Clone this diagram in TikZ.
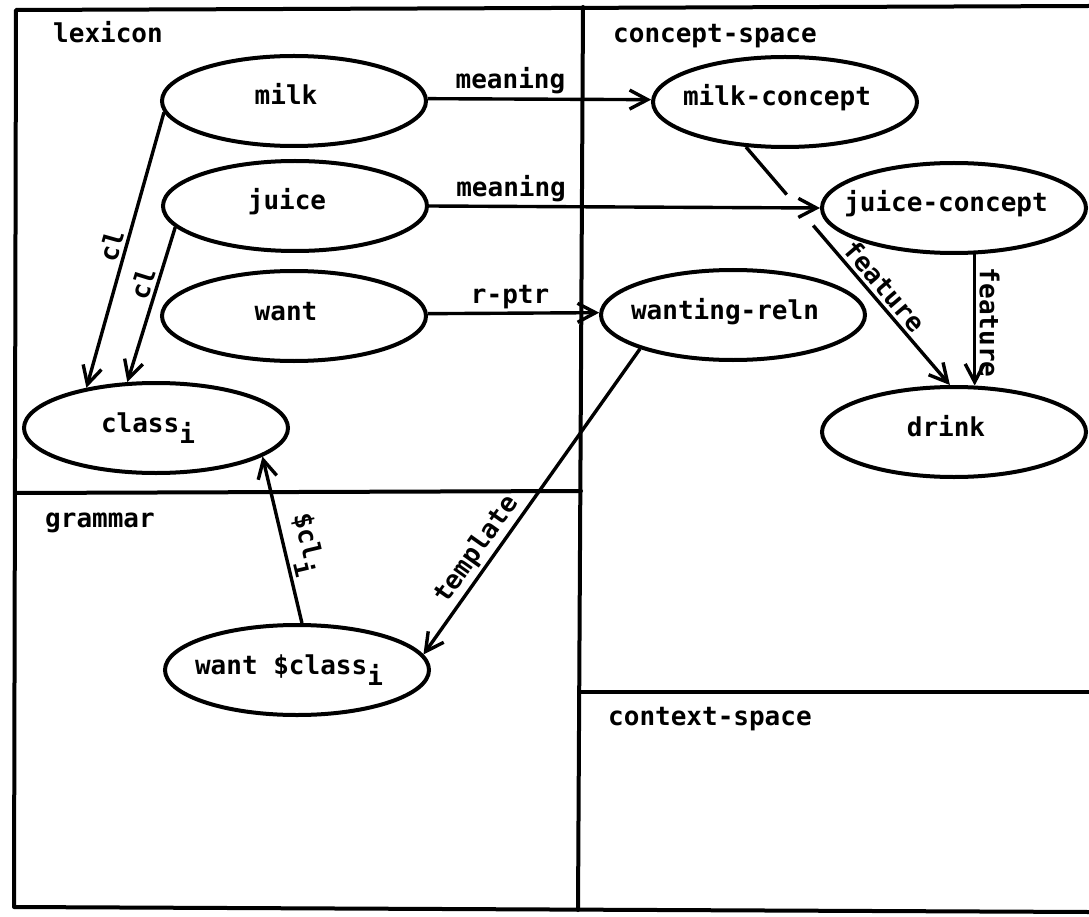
\documentclass[tikz,border=0pt]{standalone}
\usepackage{fontspec}
\newfontfamily\diagfont{DejaVu Sans Mono}
\usetikzlibrary{shapes.geometric, arrows.meta, calc}
\newcommand\lowi{\raisebox{-0.45em}{i}}

\begin{document}
\begin{tikzpicture}[x=1pt, y=-1pt,
  txt/.style={font=\diagfont\bfseries\fontsize{26}{30}\selectfont},
  frame/.style={line width=4pt, line join=round, line cap=round},
  concept/.style={ellipse, draw, line width=4pt, minimum width=264pt,
    minimum height=90pt, inner sep=0pt, txt, text height=14pt, text depth=6pt,
    execute at begin node={\hbox to 0pt\bgroup\hss},
    execute at end node={\hskip16pt\hss\egroup}},
  link/.style={line width=3.4pt, -{Straight Barb[length=18pt,width=19pt]}},
  plain/.style={line width=3.4pt},
  lab/.style={txt, inner sep=3pt},
  region/.style={txt, anchor=base west, inner sep=0pt}]

\useasboundingbox (0,0) rectangle (1089,917);

% panel frame and dividers
\draw[frame] (1089,6) -- (16,10) -- (14,907) -- (1089,912);
\draw[frame] (583,7) -- (578,910);
\draw[frame] (15,493) -- (581,491);
\draw[frame] (580,692) -- (1089,692);

% panel titles
\node[region] (lexlab) at (53,43) {lexicon};
\node[region] (cslab) at (613,43) {concept-space};
\node[region] (gramlab) at (45,527) {grammar};
\node[region] (ctxlab) at (608,725) {context-space};

% lexicon entries
\node[concept] (milk) at (294,101) {milk};
\node[concept] (juice) at (295,206) {juice};
\node[concept] (want) at (294,316) {want};
\node[concept] (cls) at (156,428) {class\lowi};

% concepts
\node[concept] (mconcept) at (785,102) {milk-concept};
\node[concept] (jconcept) at (954,208) {juice-concept};
\node[concept] (wreln) at (733,315) {wanting-reln};
\node[concept] (drink) at (954,432) {drink};

% grammar template
\node[concept] (wantcls) at (297,670) {want \$class\lowi};

% links
\draw[link] (milk.185) -- node[lab, sloped, above, pos=0.5] {cl} (cls.150);
\draw[link] (juice.190) -- node[lab, sloped, above, pos=0.39] {cl} (cls.122);
\draw[link] (milk.1) -- node[lab, above, pos=0.37] {meaning} (mconcept.179);
\draw[link] (juice.east) -- node[lab, above, pos=0.21] {meaning} (jconcept.west);
\draw[link] (want.1) -- node[lab, above, pos=0.48] {r-ptr} (wreln.179);
\draw[link] (wreln.200) -- node[lab, sloped, above, pos=0.69] {template} (wantcls.7);
\draw[link] (wantcls.84) -- node[lab, sloped, above, pos=0.44] {\$cl\lowi} (cls.345);
\draw[link] (jconcept.294) -- node[lab, rotate=-90, above, pos=0.52] {feature} (drink.66);

% feature link from milk-concept, broken where it crosses the meaning arrow
\coordinate (gapA) at ($(mconcept.229)!0.2!(drink.95)$);
\coordinate (gapB) at ($(mconcept.229)!0.33!(drink.95)$);
\draw[plain] (mconcept.229) -- (gapA);
\draw[link] (gapB) -- node[lab, sloped, above, pos=0.44] {feature} (drink.95);
\end{tikzpicture}
\end{document}
